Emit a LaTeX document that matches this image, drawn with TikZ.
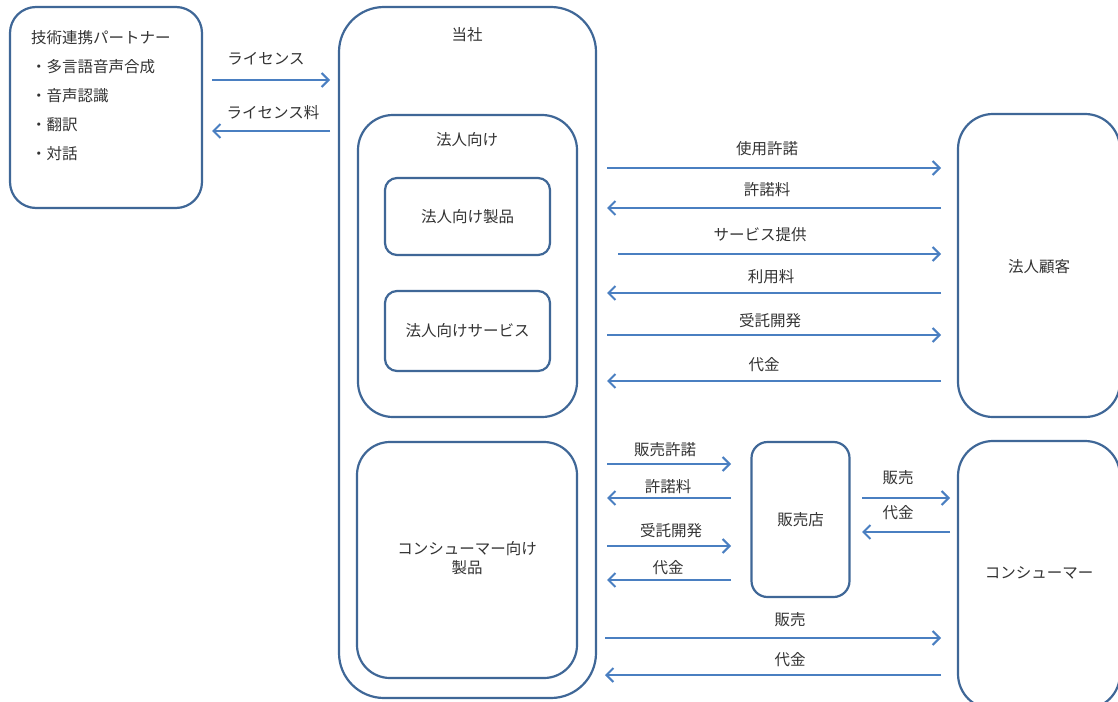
\documentclass[tikz,border=0pt]{standalone}
\usepackage{fontspec}
\setmainfont{Noto Sans CJK JP}
\usepackage{tikz}
\usetikzlibrary{arrows.meta}
\definecolor{boxblue}{HTML}{3F6797}
\definecolor{flowblue}{HTML}{4A7FC1}
\definecolor{txtgray}{HTML}{333333}

\begin{document}
\begin{tikzpicture}[x=1pt, y=-1pt,
    box/.style={draw=boxblue, line width=2.2pt, fill=white, inner sep=0pt},
    flow/.style={draw=flowblue, line width=2pt, -{Straight Barb[length=7pt, width=14pt]}},
    lbl/.style={text=txtgray, font=\fontsize{15.5}{18}\selectfont, inner sep=0pt}]
                % Canvas
                \useasboundingbox (0,0) rectangle (1118,701);
                \clip (0,0) rectangle (1118,701);
                
                % Technology partner
                \node[box, rounded corners=26pt, minimum width=192pt, minimum height=201pt] (partner) at (106,107.5) {};
                \node[lbl, anchor=north west, align=left, font=\fontsize{15.5}{29}\selectfont] (partnerText) at (31,30)
                    {技術連携パートナー\\・多言語音声合成\\・音声認識\\・翻訳\\・対話};
                
                % Our company and its divisions
                \node[box, rounded corners=45pt, minimum width=257pt, minimum height=691pt] (tosha) at (467.5,352.5) {};
                \node[lbl] (toshaTitle) at (467,35) {当社};
                \node[box, rounded corners=35pt, minimum width=219pt, minimum height=302pt] (hojin) at (467.5,266) {};
                \node[lbl] (hojinTitle) at (467,140) {法人向け};
                \node[box, rounded corners=12pt, minimum width=165pt, minimum height=77pt] (hojinSeihin) at (467.5,216.5) {};
                \node[lbl] at (hojinSeihin) {法人向け製品};
                \node[box, rounded corners=12pt, minimum width=165pt, minimum height=80pt] (hojinService) at (467.5,331) {};
                \node[lbl] at (hojinService) {法人向けサービス};
                \node[box, rounded corners=33pt, minimum width=220pt, minimum height=236pt] (consumerSeihin) at (467,560) {};
                \node[lbl, align=center, font=\fontsize{15.5}{19}\selectfont] at (467,558) {コンシューマー向け\\製品};
                
                % Customers and retailer
                \node[box, rounded corners=35pt, minimum width=162pt, minimum height=303pt] (hojinKokyaku) at (1039,265.5) {};
                \node[lbl] at (1039,267) {法人顧客};
                \node[box, rounded corners=16pt, minimum width=98pt, minimum height=155pt] (hanbaiten) at (800.5,519.5) {};
                \node[lbl] at (hanbaiten) {販売店};
                \node[box, rounded corners=35pt, minimum width=162pt, minimum height=268pt] (consumer) at (1039,575) {};
                \node[lbl] at (1039,573) {コンシューマー};
                
                % Flows: start x / end x / y / label x / label y / label
                \foreach \xa/\xb/\y/\lx/\ly/\txt [count=\i] in {
                    212/330/80/266/59/ライセンス,
                    330/212/131/273/113/ライセンス料,
                    607/941/168/767/149/使用許諾,
                    941/607/208/767/190/許諾料,
                    618/941/254/760/235/サービス提供,
                    941/607/293/771/277/利用料,
                    607/941/335/770/321/受託開発,
                    941/607/381/764/365/代金,
                    607/731/464/665/450/販売許諾,
                    731/607/498/668/487/許諾料,
                    607/731/546/671/531/受託開発,
                    731/607/580/668/568/代金,
                    862/950/498/898/478/販売,
                    950/862/532/898/513/代金,
                    605/941/638/790/620/販売,
                    941/605/675/790/660/代金} {
                    \coordinate (from\i) at (\xa,\y);
                    \coordinate (to\i) at (\xb,\y);
                    \draw[flow] (from\i) -- (to\i);
                    \node[lbl] (flowLbl\i) at (\lx,\ly) {\txt};
                }
\end{tikzpicture}
\end{document}
